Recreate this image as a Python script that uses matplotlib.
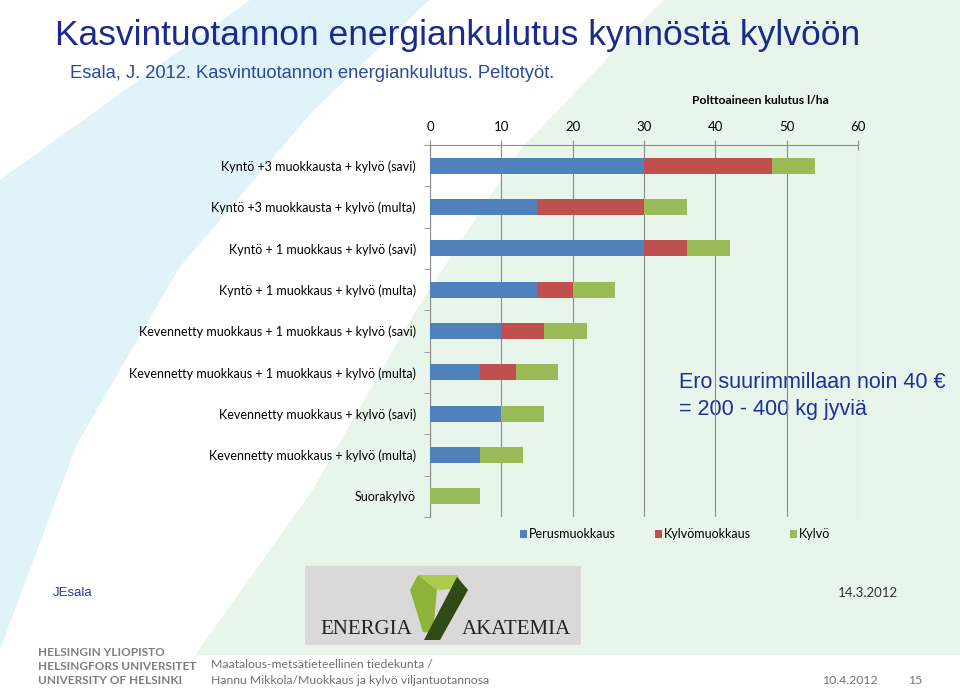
import numpy as np
import matplotlib.pyplot as plt
from matplotlib.patches import Polygon, Rectangle

# data
kategoriat = ['Kyntö +3 muokkausta + kylvö (savi)',
              'Kyntö +3 muokkausta + kylvö (multa)',
              'Kyntö + 1 muokkaus + kylvö (savi)',
              'Kyntö + 1 muokkaus + kylvö (multa)',
              'Kevennetty muokkaus + 1 muokkaus + kylvö (savi)',
              'Kevennetty muokkaus + 1 muokkaus + kylvö (multa)',
              'Kevennetty muokkaus + kylvö (savi)',
              'Kevennetty muokkaus + kylvö (multa)',
              'Suorakylvö']
perusmuokkaus = [30, 15, 30, 15, 10, 7, 10, 7, 0]
kylvomuokkaus = [18, 15, 6, 5, 6, 5, 0, 0, 0]
kylvo = [6, 6, 6, 6, 6, 6, 6, 6, 7]
sarjat = ['Perusmuokkaus', 'Kylvömuokkaus', 'Kylvö']
x_ticks = [0, 10, 20, 30, 40, 50, 60]

lato = ['Lato', 'DejaVu Sans']
arial = ['Liberation Sans', 'DejaVu Sans']

fig = plt.figure(figsize=(9.6, 6.88), dpi=100)

# slide background
bg = fig.add_axes([0, 0, 1, 1])
bg.set_xlim(0, 960)
bg.set_ylim(688, 0)
bg.axis('off')
bg.add_patch(Polygon([(250, 0), (429, 0), (312, 112), (179, 268), (76, 446), (0, 650), (0, 180)],
                     closed=True, color='#dff3f9', lw=0))
bg.add_patch(Polygon([(663, 0), (960, 0), (960, 655), (195, 655), (312, 491), (415, 312), (520, 150)],
                     closed=True, color='#e8f5ea', lw=0))

# logo
bg.add_patch(Rectangle((305, 566), 276, 79, color='#d9d9d9', lw=0))
bg.add_patch(Polygon([(410, 590), (418, 575), (437, 590), (433, 633), (423, 632)], color='#8db33a', lw=0))
bg.add_patch(Polygon([(418, 575), (457, 575), (465, 588), (437, 590)], color='#a9cc4c', lw=0))
bg.add_patch(Polygon([(457, 577), (468, 590), (440, 640), (424, 640)], color='#2f4a14', lw=0))
bg.text(366, 629, 'ENERGIA', ha='center', va='center', fontsize=15,
        family=['Liberation Serif', 'DejaVu Serif'], color='#222222')
bg.text(516, 629, 'AKATEMIA', ha='center', va='center', fontsize=15,
        family=['Liberation Serif', 'DejaVu Serif'], color='#222222')

# texts
bg.text(55, 35, 'Kasvintuotannon energiankulutus kynnöstä kylvöön', ha='left', va='center',
        fontsize=25.5, family=arial, color='#1b2a8c')
bg.text(70, 74, 'Esala, J. 2012. Kasvintuotannon energiankulutus. Peltotyöt.', ha='left', va='center',
        fontsize=13.2, family=arial, color='#2b4a9a')
bg.text(679, 382, 'Ero suurimmillaan noin 40 €', ha='left', va='center',
        fontsize=15.5, family=arial, color='#1f2f9c')
bg.text(679, 409, '= 200 - 400 kg jyviä', ha='left', va='center',
        fontsize=15.5, family=arial, color='#1f2f9c')
bg.text(53, 593, 'JEsala', ha='left', va='center', fontsize=9.5, family=arial, color='#2a3a9a')
bg.text(898, 593, '14.3.2012', ha='right', va='center', fontsize=9.5, family=lato, color='#333333')
bg.text(760, 101, 'Polttoaineen kulutus l/ha', ha='center', va='center', fontsize=8.7,
        family=lato, fontweight='bold', color='black')

for i, t in enumerate(['HELSINGIN YLIOPISTO', 'HELSINGFORS UNIVERSITET', 'UNIVERSITY OF HELSINKI']):
    bg.text(38, 652 + i * 14.5, t, ha='left', va='center', fontsize=8.5, family=lato,
            fontweight='bold', color='#7f7f7f')
bg.text(211, 665, 'Maatalous-metsätieteellinen tiedekunta /', ha='left', va='center',
        fontsize=8.8, family=lato, color='#707070')
bg.text(211, 681, 'Hannu Mikkola/Muokkaus ja kylvö viljantuotannosa', ha='left', va='center',
        fontsize=8.8, family=lato, color='#707070')
bg.text(878, 681, '10.4.2012', ha='right', va='center', fontsize=8.8, family=lato, color='#707070')
bg.text(922, 681, '15', ha='right', va='center', fontsize=8.8, family=lato, color='#707070')

# chart
ax = fig.add_axes([430 / 960, 1 - 517 / 688, 428 / 960, 372 / 688])
ax.set_facecolor('none')
y = np.arange(len(kategoriat))
perus = np.array(perusmuokkaus)
kmuok = np.array(kylvomuokkaus)
kyl = np.array(kylvo)
ax.barh(y, perus, height=0.39, color='#4f81bd', label=sarjat[0], zorder=3)
ax.barh(y, kmuok, left=perus, height=0.39, color='#c0504d', label=sarjat[1], zorder=3)
ax.barh(y, kyl, left=perus + kmuok, height=0.39, color='#9bbb59', label=sarjat[2], zorder=3)

ax.set_xlim(0, 60)
ax.set_ylim(len(kategoriat) - 0.5, -0.5)
ax.xaxis.tick_top()
ax.set_xticks(x_ticks)
ax.set_xticklabels([str(v) for v in x_ticks], family=lato, fontsize=9.5)
ax.tick_params(axis='x', direction='inout', length=7, color='#8c8c8c', pad=5)
ax.grid(axis='x', color='#8c8c8c', lw=0.8, zorder=0)

ax.set_yticks(y)
ax.set_yticklabels(kategoriat, family=lato, fontsize=9)
ax.set_yticks(np.arange(len(kategoriat) + 1) - 0.5, minor=True)
ax.tick_params(axis='y', which='major', length=0, pad=10)
ax.tick_params(axis='y', which='minor', direction='out', length=4, color='#8c8c8c')

for s in ['right', 'bottom']:
    ax.spines[s].set_visible(False)
for s in ['left', 'top']:
    ax.spines[s].set_color('#8c8c8c')
    ax.spines[s].set_linewidth(0.8)

fig.legend(loc='center', bbox_to_anchor=(675 / 960, 1 - 534 / 688), ncol=3, frameon=False,
           handlelength=0.6, handleheight=0.6, handletextpad=0.15, columnspacing=3.1,
           prop={'family': lato, 'size': 9})

fig.savefig('out.png', dpi=100)
